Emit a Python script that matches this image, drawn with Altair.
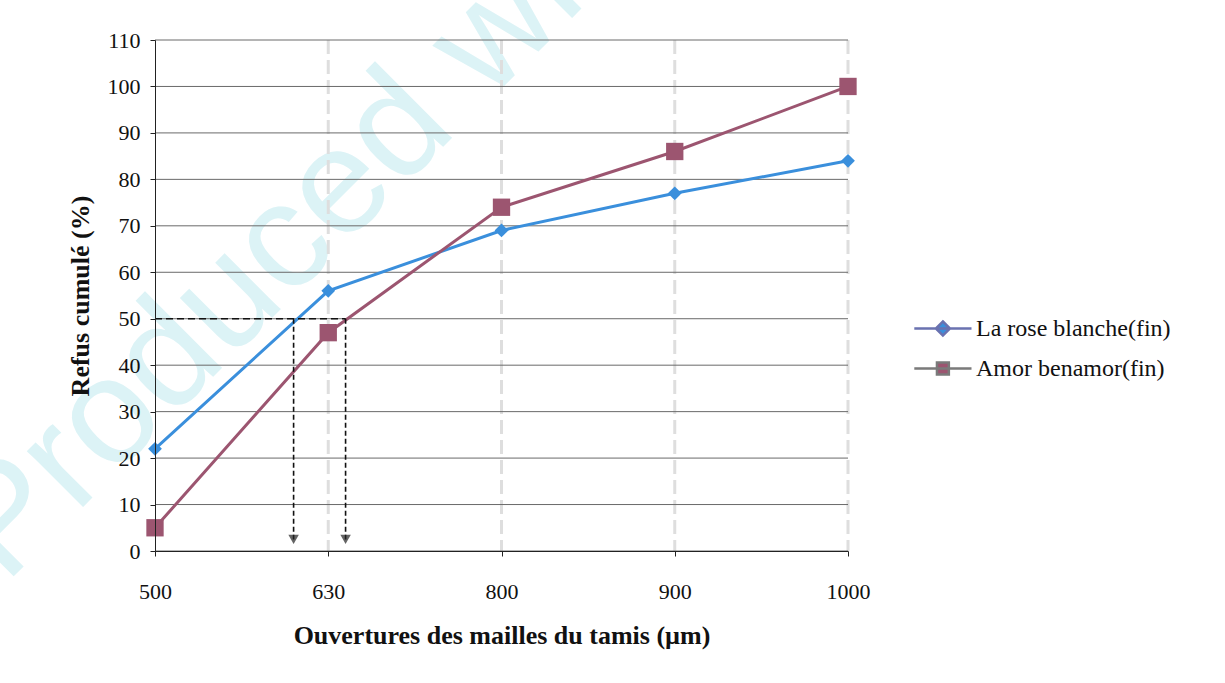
import json
import altair as alt
import pandas as pd

# ---- data ----
categories = ["500", "630", "800", "900", "1000"]
rose_blanche = [22, 56, 69, 77, 84]
amor_benamor = [5, 47, 74, 86, 100]
series_names = ["La rose blanche(fin)", "Amor benamor(fin)"]
y_ticks = list(range(0, 111, 10))
d50_level = 50
d50_positions = [0.8, 1.1]     # positions of the D50 arrows on the category axis (index units)
arrow_tip = 2.5

FONT = "Liberation Serif"

rows = []
for name, vals in zip(series_names, [rose_blanche, amor_benamor]):
    for i, v in enumerate(vals):
        rows.append({"idx": i, "val": v, "series": name})
df = pd.DataFrame(rows)

df_h = pd.DataFrame({"idx": [0], "idx2": [max(d50_positions)], "val": [d50_level]})
df_v = pd.DataFrame({"idx": d50_positions, "val": [d50_level] * len(d50_positions),
                     "val2": [arrow_tip] * len(d50_positions)})
df_gy = pd.DataFrame({"val": y_ticks})
df_gx = pd.DataFrame({"idx": list(range(1, len(categories)))})

label_expr = json.dumps(categories) + "[datum.value]"

xscale = alt.Scale(domain=[0, len(categories) - 1], nice=False, zero=False)
yscale = alt.Scale(domain=[0, 110], nice=False)

series_colors = ["#3a8fdc", "#9c5570"]
legend_line_colors = ["#6a72b0", "#7a7a7a"]
color_scale = alt.Scale(domain=series_names, range=series_colors)
shape_scale = alt.Scale(domain=series_names, range=["diamond", "square"])

x_axis = alt.Axis(values=list(range(len(categories))), labelExpr=label_expr,
                  title="Ouvertures des mailles du tamis (µm)", labelFlush=False,
                  labelFont=FONT, labelFontSize=22, labelColor="#111",
                  titleFont=FONT, titleFontSize=26, titleFontWeight="bold", titleColor="#111",
                  labelPadding=25, titlePadding=20, tickSize=5, tickColor="#222",
                  domainColor="#222", grid=False, zindex=1)
y_axis = alt.Axis(values=y_ticks, title="Refus cumulé (%)",
                  labelFont=FONT, labelFontSize=22, labelColor="#111",
                  titleFont=FONT, titleFontSize=26, titleFontWeight="bold", titleColor="#111",
                  labelPadding=10, titlePadding=14, tickSize=5, tickColor="#222",
                  domainColor="#222", grid=False, zindex=1)

# legend symbols: a short line with the marker on it
legend_paths = ["M-1.6,0H1M-0.3,-0.32L0.02,0L-0.3,0.32L-0.62,0Z",
                "M-1.6,0H1M-0.57,-0.27H-0.03V0.27H-0.57Z"]

legend = alt.Legend(title=None, orient="none", legendX=771, legendY=265,
                    labelFont=FONT, labelFontSize=24, labelColor="#111", labelLimit=400,
                    symbolSize=1936, rowPadding=4, labelOffset=3,
                    symbolStrokeWidth=2.5, symbolOpacity=1)

X = alt.X("idx:Q", scale=xscale, axis=x_axis)
Y = alt.Y("val:Q", scale=yscale, axis=y_axis)

watermark = alt.Chart(alt.Data(values=[{}])).mark_text(
    text="Produced with a Trial Version of PDF Annotator", fontSize=150, font="Liberation Sans",
    color="#dcf3f6", angle=315, align="left", baseline="alphabetic"
).encode(x=alt.value(-150), y=alt.value(545))

grid_x = alt.Chart(df_gx).mark_rule(color="#dedede", strokeWidth=3, strokeDash=[14, 6]).encode(x=X)
grid_y = alt.Chart(df_gy).mark_rule(color="#6a6a6a", strokeWidth=1).encode(y=Y)

h_line = alt.Chart(df_h).mark_rule(color="#111", strokeDash=[7, 4], strokeWidth=1.6).encode(
    x=X, x2="idx2:Q", y=Y)
v_lines = alt.Chart(df_v).mark_rule(color="#111", strokeDash=[5, 3], strokeWidth=1.6).encode(
    x=X, y=Y, y2="val2:Q")
arrows = alt.Chart(df_v).mark_point(shape="triangle-down", filled=True, color="#222", size=110).encode(
    x=X, y=alt.Y("val2:Q", scale=yscale, axis=y_axis))

lines = alt.Chart(df).mark_line(strokeWidth=3).encode(
    x=X, y=Y,
    color=alt.Color("series:N", scale=color_scale, legend=None),
    detail="series:N")

points = alt.Chart(df).mark_point(filled=True, opacity=1, strokeWidth=1).encode(
    x=X, y=Y,
    color=alt.Color("series:N", scale=color_scale, legend=None),
    shape=alt.Shape("series:N", scale=shape_scale, legend=None),
    size=alt.Size("series:N", scale=alt.Scale(domain=series_names, range=[190, 300]), legend=None))

legend_layer = alt.Chart(df).mark_point(opacity=0, strokeWidth=2.5).encode(
    x=X, y=Y,
    fill=alt.Fill("series:N", scale=alt.Scale(domain=series_names, range=series_colors), legend=legend),
    stroke=alt.Stroke("series:N", scale=alt.Scale(domain=series_names, range=legend_line_colors), legend=legend),
    shape=alt.Shape("series:N", scale=alt.Scale(domain=series_names, range=legend_paths), legend=legend))

chart = alt.layer(watermark, grid_x, grid_y, lines, h_line, v_lines, arrows, points, legend_layer
).resolve_scale(color="independent", fill="independent", stroke="independent",
                shape="independent", size="independent").properties(
    width=693, height=511,
    autosize=alt.AutoSizeParams(type="none"),
    padding={"left": 155, "top": 40, "right": 377, "bottom": 132},
    background="white",
).configure_view(stroke=None)

chart.save("out.html", embed_options={"renderer": "svg", "actions": False})
